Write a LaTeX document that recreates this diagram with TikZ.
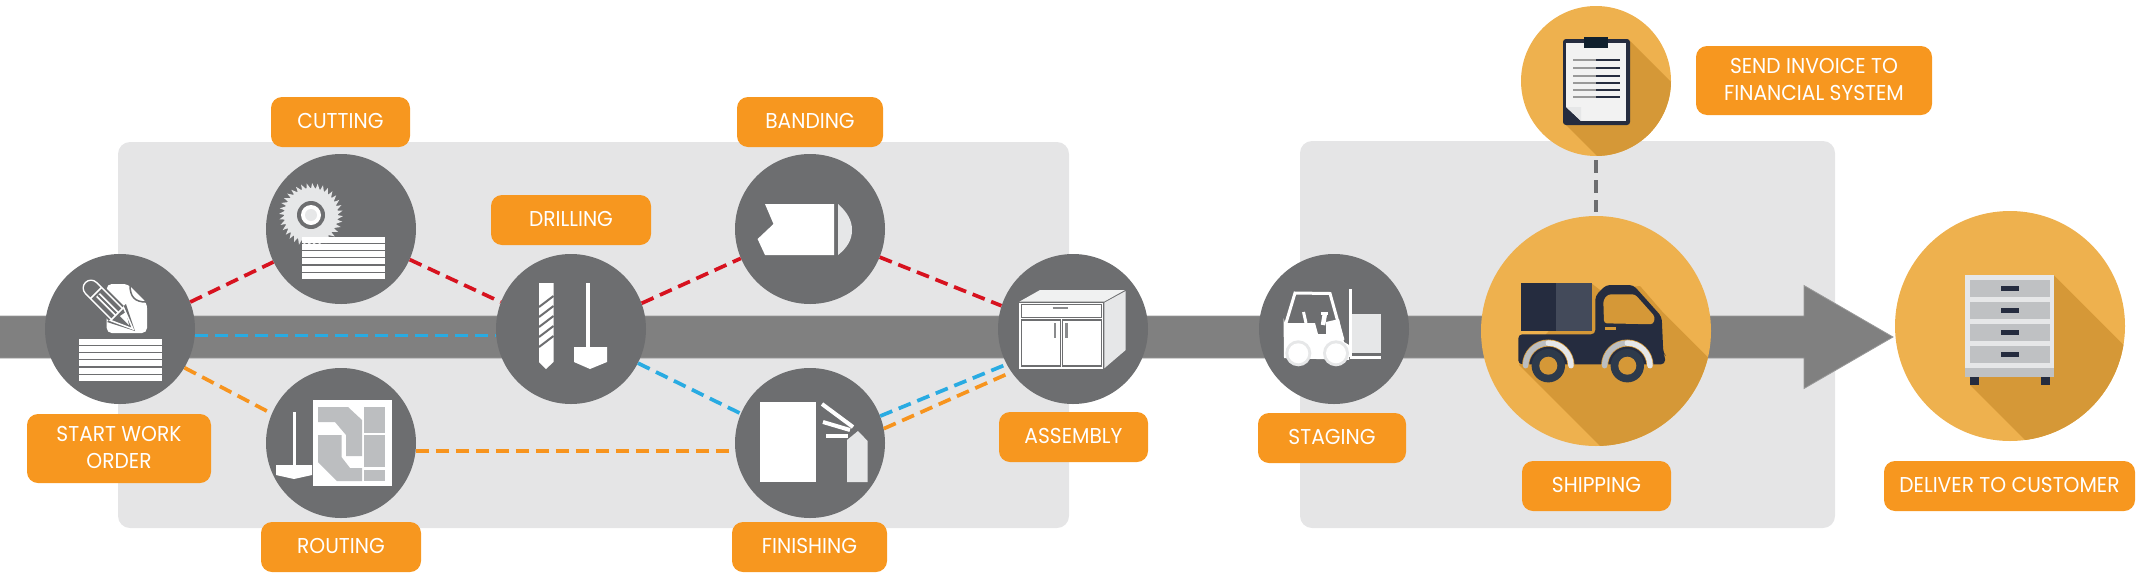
\documentclass[tikz,border=0pt]{standalone}
\usepackage{fontspec}
\setmainfont{Poppins}[FakeStretch=0.94]
\definecolor{panelgrey}{HTML}{E5E5E6}
\definecolor{bandgrey}{HTML}{808080}
\definecolor{stepgrey}{HTML}{6D6E70}
\definecolor{tagorange}{HTML}{F7971F}
\definecolor{sunorange}{HTML}{EEB14E}
\definecolor{shadeorange}{HTML}{D59837}
\definecolor{navy}{HTML}{252C3F}
\definecolor{slate}{HTML}{434A5A}
\definecolor{tyre}{HTML}{2D3A4B}
\definecolor{clipdark}{HTML}{10202E}
\definecolor{pale}{HTML}{E6E7E8}
\definecolor{cutgrey}{HTML}{BCBEC0}
\definecolor{linkred}{HTML}{D7121F}
\definecolor{linkblue}{HTML}{29ABE2}
\definecolor{linkorange}{HTML}{F7941E}
\tikzset{
	panel/.style={fill=panelgrey, rounded corners=12pt},
	stepnode/.style={circle, fill=stepgrey, minimum size=150pt, inner sep=0pt},
	sunnode/.style={circle, fill=sunorange, inner sep=0pt},
	tag/.style={rectangle, fill=tagorange, rounded corners=11pt, text=white, align=center, inner sep=0pt, font=\fontsize{21.5}{26.7}\selectfont, execute at end node={\rule[-2pt]{0pt}{2pt}}},
	link/.style={line width=3.7pt, dash pattern=on 13pt off 7pt},
	redlink/.style={link, draw=linkred},
	bluelink/.style={link, draw=linkblue},
	orangelink/.style={link, draw=linkorange},
	greylink/.style={link, draw=stepgrey},
}
\newcommand{\boardstack}[2]{\foreach \row in {0,...,5}{\fill[white] (#1,#2+\row*7.15) rectangle +(83,6);}}
\begin{document}
\begin{tikzpicture}[x=1pt, y=-1pt]
	\useasboundingbox (0,0) rectangle (2148,587);
	\fill[panel] (118,142) rectangle (1069,528);
	\fill[panel] (1300,141) rectangle (1835,528);
	\filldraw[fill=bandgrey, draw=gray!80, line width=0.8pt] (0,316) -- (1804,316) -- (1804,285.5) -- (1893,337) -- (1804,388.5) -- (1804,358) -- (0,358);

	\node[stepnode] (start) at (120,329) {};
	\node[stepnode] (cutting) at (341,229) {};
	\node[stepnode] (drilling) at (571,329) {};
	\node[stepnode] (routing) at (341,443) {};
	\node[stepnode] (banding) at (810,229) {};
	\node[stepnode] (finishing) at (810,443) {};
	\node[stepnode] (assembly) at (1073,329) {};
	\node[stepnode] (staging) at (1334,329) {};
	\node[sunnode, minimum size=230pt] (shipping) at (1596,331) {};
	\node[sunnode, minimum size=150pt] (invoice) at (1596,81) {};
	\node[sunnode, minimum size=230pt] (deliver) at (2010,326) {};

	\draw[redlink] (start.21.5) -- (cutting.206);
	\draw[redlink] (cutting.-24) -- (drilling.159);
	\draw[redlink] (drilling.20) -- (banding.203.5);
	\draw[redlink] (banding.-22) -- (assembly.162);
	\draw[bluelink] (start.-5) -- (drilling.185);
	\draw[bluelink] (drilling.-27) -- (finishing.157);
	\draw[bluelink] (finishing.21.5) -- (assembly.208.5);
	\draw[orangelink] (start.-31) -- (routing.157);
	\draw[orangelink] (routing.-6) -- (finishing.186);
	\draw[orangelink] (finishing.11.5) -- (assembly.215.6);
	\path (invoice.south)++(0,4) coordinate (invoicefoot) (shipping.north)++(0,-4) coordinate (shippinghead);
	\draw[greylink] (invoicefoot) -- (shippinghead);

	\node[tag, minimum width=139pt, minimum height=50pt] (cuttingtag) at (340.5,122) {CUTTING};
	\node[tag, minimum width=160pt, minimum height=50pt] (drillingtag) at (571,220) {DRILLING};
	\node[tag, minimum width=184pt, minimum height=69pt] (starttag) at (119,448.5) {START WORK\\ORDER};
	\node[tag, minimum width=160pt, minimum height=50pt] (routingtag) at (341,547) {ROUTING};
	\node[tag, minimum width=146pt, minimum height=50pt] (bandingtag) at (810,122) {BANDING};
	\node[tag, minimum width=149pt, minimum height=50pt] (assemblytag) at (1073.5,437) {ASSEMBLY};
	\node[tag, minimum width=155pt, minimum height=50pt] (finishingtag) at (809.5,547) {FINISHING};
	\node[tag, minimum width=148pt, minimum height=50pt] (stagingtag) at (1332,438) {STAGING};
	\node[tag, minimum width=149pt, minimum height=50pt] (shippingtag) at (1596.5,486) {SHIPPING};
	\node[tag, minimum width=251pt, minimum height=50pt] (delivertag) at (2009.5,486) {DELIVER TO CUSTOMER};
	\node[tag, minimum width=236pt, minimum height=69pt] (invoicetag) at (1814,80.5) {SEND INVOICE TO\\FINANCIAL SYSTEM};

	% start: sheet, pencil, boards
	\fill[white, rounded corners=5pt] (106.7,284) -- (128,284) -- (147,303) -- (147,333) -- (106.7,333) -- cycle;
	\draw[stepgrey, line width=1.5pt] (130,285) .. controls (130,297) and (135,302) .. (146,302);
	\draw[stepgrey, line width=21pt, line cap=round] (91,288) -- (117,314);
	\fill[stepgrey] (126,304) -- (135,331) -- (107,322) -- cycle;
	\draw[white, line width=17pt, line cap=round] (91,288) -- (117,314);
	\draw[stepgrey, line width=14pt, line cap=round] (91,288) -- (118,315);
	\draw[white, line width=5.5pt] (98,295) -- (118,315);
	\draw[stepgrey, line width=1.8pt] (98,295) -- (118,315);
	\draw[white, line width=1.5pt] (90.5,298.5) -- (101.5,287.5);
	\filldraw[fill=stepgrey, draw=white, line width=1.5pt] (123.5,307.5) -- (133,329) -- (110.5,320.5) -- cycle;
	\fill[white] (120,316) -- (126,312) -- (129,325) -- cycle;
	\boardstack{79}{339}

	% cutting: saw blade over boards
	\foreach \a in {0,10,...,350}{\fill[pale] (311,215)+(\a:26) -- +(\a+2:32) -- +(\a+10:26) -- cycle;}
	\fill[pale] (311,215) circle [radius=27pt];
	\fill[stepgrey] (311,215) circle [radius=14pt];
	\fill[white] (311,215) circle [radius=10pt];
	\fill[pale] (311,215) circle [radius=6pt];
	\boardstack{302}{237}

	% drilling: spiral bit and flat bit
	\fill[white] (539,283) rectangle (553.5,362) -- (553.5,362) -- (546,369) -- (539,362) -- cycle;
	\foreach \d in {0,...,4}{\draw[stepgrey, line width=2pt] (539,307+\d*10) -- (553.5,296+\d*10);}
	\fill[white] (585.7,283) rectangle (590,348);
	\fill[white] (574,347) -- (607,347) -- (607,362) -- (590,369) -- (574,362) -- cycle;

	% routing: bit and nested sheet
	\fill[white] (293,412) rectangle (295.5,466);
	\fill[white] (276,465) -- (312,465) -- (312,475) -- (294,479) -- (276,475) -- cycle;
	\fill[white] (313,400) rectangle (392,486);
	\fill[cutgrey] (364,407) rectangle (385,433);
	\fill[cutgrey] (364,435) rectangle (385,467);
	\fill[cutgrey] (364,470) rectangle (385,481);
	\fill[cutgrey] (318,407) -- (348,407) -- (362,420) -- (362,456) -- (346,456) -- (346,435) -- (335,422) -- (318,422) -- cycle;
	\fill[cutgrey] (318,435) -- (341.5,435) -- (341.5,457) -- (350,468) -- (362,468) -- (362,481) -- (337,481) -- (318,462) -- cycle;

	% banding: panel and edge strip
	\fill[white] (765,204) -- (834,204) -- (834,255) -- (765,255) -- (757.6,239) -- (773.5,224) -- cycle;
	\fill[pale] (838,204) .. controls (847,212) and (852,220) .. (852,230) .. controls (852,240) and (847,248) .. (838,255) -- cycle;

	% finishing: panel and spray
	\fill[white] (760,402) rectangle (816,482);
	\fill[pale] (847,440) -- (858,431) -- (867.6,441) -- (867.6,482) -- (847,482) -- cycle;
	\draw[white, line width=4pt] (822,404) -- (853,427);
	\draw[white, line width=4pt] (823,422) -- (850,430);
	\draw[white, line width=4pt] (826,436) -- (848,436);

	% assembly: cabinet
	\fill[pale!60!white] (1019.3,301.7) -- (1040,290) -- (1125,290) -- (1104,301.7) -- cycle;
	\fill[pale] (1104.3,302.7) -- (1125.7,291) -- (1125.7,350) -- (1104.3,368.3) -- cycle;
	\fill[white] (1019.3,302.7) rectangle (1103.3,369.3);
	\fill[stepgrey] (1020.8,304) rectangle (1102.3,367);
	\fill[white] (1022.3,305.3) rectangle (1101,316.7);
	\draw[white, line width=1.2pt] (1020.8,318.5) -- (1102.3,318.5);
	\fill[white] (1022.3,320.7) rectangle (1060,365);
	\draw[white, line width=1.2pt] (1061.2,319) -- (1061.2,367);
	\fill[white] (1062.7,320.7) rectangle (1101,365);
	\draw[stepgrey!80!white, line width=2.5pt] (1055,323) -- (1055,338);
	\draw[stepgrey!80!white, line width=2.5pt] (1066.7,323) -- (1066.7,338);
	\draw[stepgrey!80!white, line width=2.3pt] (1052.7,307.7) -- (1068.3,307.7);

	% staging: forklift
	\draw[white, line width=3pt] (1286,323) -- (1295,293) -- (1330,293.5) -- (1343,340);
	\fill[white] (1283.5,318) -- (1285,323) -- (1315,323) -- (1318,334) -- (1326,334) -- (1326,322) -- (1339,319) -- (1344,342) -- (1349,345) -- (1349,360) -- (1284,358) -- cycle;
	\draw[white, line width=3pt] (1303.5,312) -- (1306,323);
	\draw[white, line width=2.5pt] (1321,313.5) -- (1328,313.5);
	\draw[white, line width=4.5pt] (1325,313) -- (1323,325);
	\fill[pale] (1352.3,314.3) rectangle (1380.7,352.7);
	\fill[white] (1349.3,289.3) rectangle (1352.3,356.7);
	\fill[white] (1350,356) rectangle (1381,359.3);
	\foreach \w in {1298.3,1336}{
		\fill[pale] (\w,353.3) circle [radius=13pt];
		\fill[white] (\w,353.3) circle [radius=10pt];
	}

	% shipping: truck with long shade
	\begin{scope}
		\clip (1596,331) circle [radius=115pt];
		\fill[shadeorange] (1591,283) -- (1600,290) -- (1640,286) -- (1663.5,313) -- (1783.5,433) -- (1639,485) -- (1519,365) -- cycle;
	\end{scope}
	\fill[navy] (1521,283.3) rectangle (1556,331);
	\fill[slate] (1556,283.3) rectangle (1591.7,331);
	\fill[navy, rounded corners=4pt] (1518.3,334.3) -- (1595.3,334.3) -- (1595.3,296) -- (1606,285) -- (1633.3,285) -- (1661.7,316.7) -- (1663.3,353) -- (1665,355) -- (1665,364.3) -- (1518.3,364.3) -- cycle;
	\fill[shadeorange, rounded corners=3pt] (1603.3,300) -- (1604,323.3) -- (1653.3,324.3) -- (1655,316.7) -- (1635,294.3) -- (1608,294.3) -- cycle;
	\fill[shadeorange] (1605,327.3) rectangle (1616,330);
	\foreach \w in {1548.3,1627.3}{
		\draw[shadeorange, line width=7pt, line cap=round] (\w,365.7)+(180:22.7) arc [start angle=180, end angle=360, radius=22.7];
		\draw[cutgrey, line width=5.5pt, line cap=round] (\w,365.7)+(180:22.7) arc [start angle=180, end angle=270, radius=22.7];
		\draw[pale, line width=5.5pt, line cap=round] (\w,365.7)+(0:22.7) arc [start angle=0, end angle=-90, radius=22.7];
		\fill[tyre] (\w,365.7) circle [radius=16.7pt];
		\fill[shadeorange] (\w,365.7) circle [radius=9pt];
	}

	% invoice: clipboard with long shade
	\begin{scope}
		\clip (1596,81) circle [radius=75pt];
		\fill[shadeorange] (1630,41) -- (1730,141) -- (1666,225) -- (1566,125) -- cycle;
	\end{scope}
	\fill[navy, rounded corners=3pt] (1563,39) rectangle (1630,125);
	\fill[white!95!black] (1566,43) rectangle (1626,121);
	\fill[navy] (1566,107) -- (1581,121) -- (1566,121) -- cycle;
	\fill[pale] (1566,107) -- (1581,107) -- (1581,121) -- cycle;
	\fill[clipdark] (1584,37) rectangle (1608,48);
	\foreach \l in {60,68,76,83,90,97}{
		\draw[gray!80, line width=2pt] (1573,\l) -- (1596,\l);
		\draw[navy, line width=2pt] (1596,\l) -- (1620,\l);
	}

	% deliver: drawer cabinet with long shade
	\begin{scope}
		\clip (2010,326) circle [radius=115pt];
		\fill[shadeorange] (2054,275.5) -- (2174,395.5) -- (2090,505) -- (1970,385) -- cycle;
	\end{scope}
	\fill[pale] (1965,275) rectangle (2054,368);
	\fill[cutgrey!95!white] (1965,368) rectangle (2054,377);
	\foreach \t in {280,302,324,346}{
		\fill[cutgrey!95!white] (1970,\t) rectangle (2049.5,\t+17);
		\fill[navy] (2001,\t+6) rectangle (2019,\t+11);
	}
	\fill[navy] (1970,377) rectangle (1979,385);
	\fill[navy] (2041,377) rectangle (2050,385);
\end{tikzpicture}
\end{document}
